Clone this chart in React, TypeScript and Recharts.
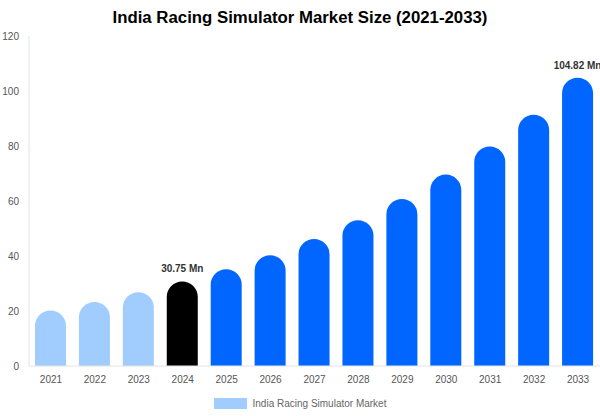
import React from 'react';
import { BarChart, Bar, XAxis, YAxis, Cell, LabelList, Legend } from 'recharts';

const years = ['2021', '2022', '2023', '2024', '2025', '2026', '2027', '2028', '2029', '2030', '2031', '2032', '2033'];
const marketSize = [20.2, 23.3, 26.8, 30.75, 35.2, 40.3, 46.2, 53.0, 60.7, 69.6, 79.8, 91.4, 104.82];
const valueLabels = ['', '', '', '30.75 Mn', '', '', '', '', '', '', '', '', '104.82 Mn'];
const yTicks = [0, 20, 40, 60, 80, 100, 120];
const seriesName = 'India Racing Simulator Market';
const title = 'India Racing Simulator Market Size (2021-2033)';
const baseYear = '2024';

const HIST = '#a0cdfd';
const BASE = '#000000';
const FORE = '#0066ff';
const FONT = '"Liberation Sans", Arial, sans-serif';

const data = years.map((y, i) => ({ year: y, value: marketSize[i], label: valueLabels[i] }));

const colorFor = (y: string) => (y < baseYear ? HIST : y === baseYear ? BASE : FORE);

const LegendContent = () => (
  <div style={{ display: 'flex', justifyContent: 'center', alignItems: 'center', height: 25 }}>
    <div style={{ width: 33, height: 11, background: HIST, marginRight: 6 }} />
    <span style={{ fontSize: 10, color: '#666', fontFamily: FONT }}>{seriesName}</span>
  </div>
);

const TopLabel = (props: any) => {
  const { x, y, width, value } = props;
  if (!value) return null;
  return (
    <text x={Number(x) + Number(width) / 2} y={Number(y) - 9} textAnchor="middle" fontSize={10} fontWeight="bold" fill="#333" fontFamily={FONT}>
      {value}
    </text>
  );
};

export default function App() {
  return (
    <div style={{ position: 'absolute', left: 0, top: 0, width: 600, height: 416, background: '#fff', fontFamily: FONT }}>
      <div style={{ position: 'absolute', left: 0, top: 8, width: 600, textAlign: 'center', fontSize: 16.8, fontWeight: 'bold', color: '#000', lineHeight: '20px' }}>
        {title}
      </div>
      <BarChart width={600} height={416} data={data} margin={{ top: 36, right: 0, left: 0, bottom: 0 }} style={{ fontFamily: FONT }}>
        <XAxis
          dataKey="year"
          height={25}
          tickLine={false}
          axisLine={{ stroke: '#e3e3e3' }}
          tick={{ fontSize: 10, fill: '#555' }}
          tickMargin={4}
          interval={0}
        />
        <YAxis
          width={29}
          domain={[0, 120]}
          ticks={yTicks}
          tickLine={false}
          axisLine={{ stroke: '#e3e3e3' }}
          tick={{ fontSize: 10, fill: '#555' }}
          tickMargin={4}
        />
        <Legend verticalAlign="bottom" height={25} content={<LegendContent />} />
        <Bar dataKey="value" name={seriesName} barSize={31} radius={[15.5, 15.5, 0, 0]} isAnimationActive={false} fill={HIST}>
          {data.map((d) => (
            <Cell key={d.year} fill={colorFor(d.year)} />
          ))}
          <LabelList dataKey="label" content={<TopLabel />} />
        </Bar>
      </BarChart>
    </div>
  );
}
